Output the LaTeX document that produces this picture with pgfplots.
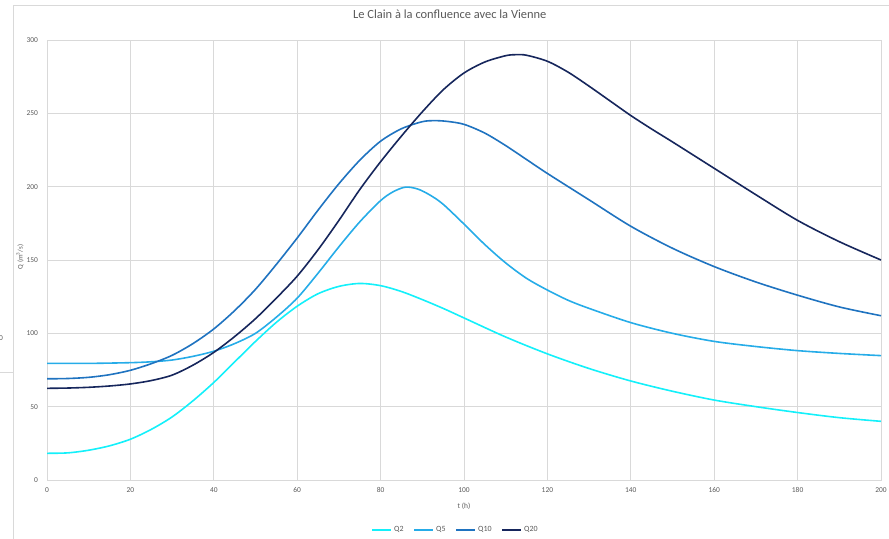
\documentclass[border=0pt]{standalone}
\usepackage{fontspec}
\setmainfont{Carlito}
\usepackage{pgfplots}
\pgfplotsset{compat=1.18}
\definecolor{gridc}{RGB}{217,217,217}
\definecolor{lab}{RGB}{89,89,89}
\definecolor{qtwo}{RGB}{20,240,250}
\definecolor{qfive}{RGB}{38,172,232}
\definecolor{qten}{RGB}{31,115,192}
\definecolor{qtwenty}{RGB}{22,38,92}
\begin{document}
\begin{tikzpicture}
\begin{axis}[
  at={(47bp,59bp)}, anchor=south west,
  scale only axis, width=834bp, height=440bp,
  xmin=0, xmax=200, ymin=0, ymax=300,
  xtick={0,20,...,200}, ytick={0,50,...,300},
  grid=major, grid style={draw=gridc, line width=0.75bp},
  axis line style={draw=gridc, line width=0.75bp},
  major tick length=0pt,
  /pgf/number format/assume math mode=true,
  tick label style={font=\fontsize{7.5}{9}\selectfont, text=lab},
  xticklabel style={yshift=-4bp},
  yticklabel style={xshift=-5.5bp},
  title={Le Clain à la confluence avec la Vienne},
  title style={at={(axis description cs:0.483,1.045)}, anchor=center, font=\fontsize{12.5}{14}\selectfont, text=lab},
  xlabel={t (h)},
  xlabel style={at={(axis description cs:0.5,-0.059)}, anchor=center, font=\fontsize{7.5}{9}\selectfont, text=lab},
  ylabel={Q (m\textsuperscript{3}/s)},
  ylabel style={at={(axis description cs:-0.0324,0.507)}, anchor=center, rotate=0, font=\fontsize{7}{9}\selectfont, text=lab},
  legend columns=4,
  legend style={at={(axis description cs:0.49,-0.1136)}, anchor=center, draw=none, fill=none,
    font=\fontsize{8}{9}\selectfont, text=lab,
    /tikz/every even column/.append style={column sep=8bp},
    /tikz/every odd column/.append style={column sep=0bp}},
  legend cell align=left,
  legend image code/.code={\draw[#1] (0bp,0bp) -- (19bp,0bp);},
  every axis plot/.append style={line width=1.6bp, smooth, tension=0.5, no markers},
]
\addplot[qtwo] coordinates {
(0,18.2) (5,18.5) (10,20.3) (15,23.3) (20,27.8) (25,34.5) (30,43) (35,54) (40,66.5) (45,80.5) (50,94.5) (55,107.5) (60,118.5) (65,127) (70,132) (75,134) (80,132.5) (85,128.5) (90,123) (95,117) (100,110.5) (110,97.5) (120,86) (130,76) (140,67.5) (150,60.5) (160,54.5) (170,50) (180,46) (190,42.5) (200,40)
};
\addlegendentry{Q2}
\addplot[qfive] coordinates {
(0,79.5) (10,79.5) (20,80) (25,80.6) (30,81.8) (35,84.3) (40,87.8) (45,93) (50,100) (55,111) (60,124) (65,141) (70,159) (75,176) (80,190.5) (83,196.5) (86,199.7) (89,198.3) (92,194) (95,188) (100,174.5) (105,160.5) (110,148) (115,137.5) (120,129.5) (125,122.5) (130,117) (140,107.3) (150,100) (160,94.5) (170,91) (180,88.2) (190,86.3) (200,84.8)
};
\addlegendentry{Q5}
\addplot[qten] coordinates {
(0,69) (5,69.2) (10,70) (15,71.8) (20,74.8) (25,79.3) (30,85) (35,93) (40,103) (45,115.5) (50,130) (55,147) (60,165) (65,184) (70,202) (75,218) (80,231) (85,239.5) (90,244.3) (93,245) (96,244.5) (100,242.5) (105,236.5) (110,228) (115,218.5) (120,209) (130,191) (140,173) (150,158) (160,145.5) (170,135) (180,126) (190,118) (200,112)
};
\addlegendentry{Q10}
\addplot[qtwenty] coordinates {
(0,62.5) (5,62.7) (10,63.2) (15,64.1) (20,65.5) (25,67.8) (30,71.5) (35,78.3) (40,87) (45,97.8) (50,110) (55,124) (60,139) (65,157) (70,177) (75,198) (80,217) (85,234.5) (90,251) (95,266) (100,277.5) (105,285) (110,289.3) (112.5,290) (115,289.6) (120,285.5) (125,278) (130,268.5) (135,258.5) (140,248.5) (145,239.3) (150,230.5) (160,212.5) (170,194.5) (180,177) (190,162.5) (200,150)
};
\addlegendentry{Q20}
\end{axis}
% screenshot frame lines
\draw[gridc, line width=0.75bp] (13bp,0bp) -- (13bp,534bp) -- (889bp,534bp);
\draw[gridc, line width=0.75bp] (0bp,167bp) -- (13bp,167bp);
\node[anchor=east, inner sep=0pt, text=lab, font=\fontsize{7.5}{9}\selectfont] at (3bp,201bp) {0};
\pgfresetboundingbox
\useasboundingbox (0bp,0bp) rectangle (889bp,539bp);
\end{tikzpicture}
\end{document}
